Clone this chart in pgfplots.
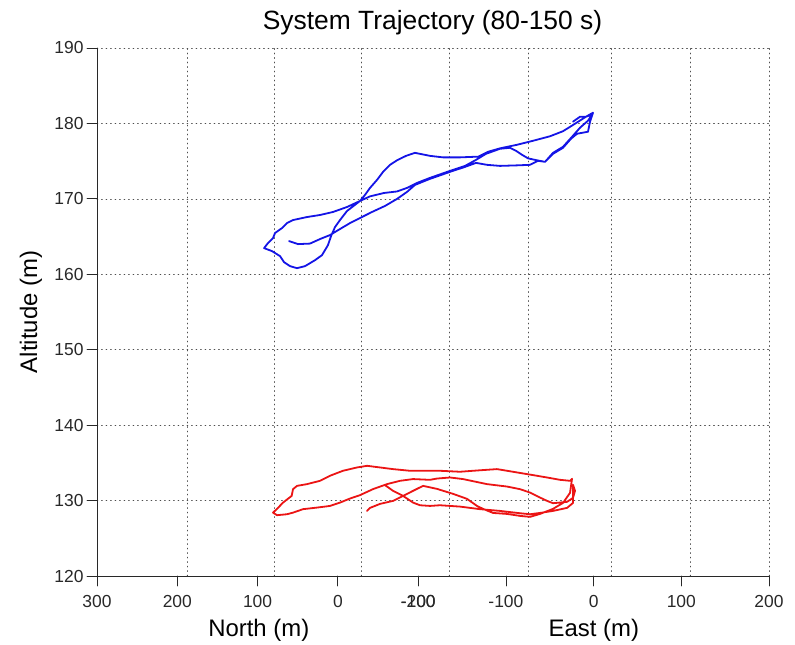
\documentclass[border=0pt]{standalone}
\usepackage{pgfplots}
\pgfplotsset{compat=1.18}
\usepackage{fontspec}
\setmainfont{Liberation Sans}
\definecolor{mblue}{RGB}{20,20,230}
\definecolor{mred}{RGB}{235,20,20}
\definecolor{axgray}{RGB}{40,40,40}
\begin{document}
\begin{tikzpicture}
\path[use as bounding box] (-97bp,-69bp) rectangle (698bp,576bp);
\begin{axis}[
  at={(0,0)}, anchor=south west,
  scale only axis, width=672bp, height=528bp,
  xmin=-566.3, xmax=200, ymin=120, ymax=190,
  axis x line*=bottom, axis y line*=left,
  axis line style={-, line width=0.8bp, axgray},
  tick align=outside, major tick length=10bp,
  tick style={line width=0.8bp, axgray},
  xtick={-566.3,-474.7,-383.2,-291.6,-200,-200,-100,0,100,200},
  xticklabels={300,200,100,0,-100,-200,-100,0,100,200},
  ytick={120,130,...,190},
  ymajorgrids,
  major grid style={line width=0.7bp, black!70, dash pattern=on 0.9bp off 3.6bp},
  extra x ticks={-463.6,-364.4,-265.2,-164.8,-74.8,19.8,109.9,200},
  extra x tick labels={},
  extra x tick style={grid=major, major tick length=0bp},
  tick label style={font=\fontsize{17.5}{20}\selectfont, text=axgray},
  xticklabel style={yshift=-6bp},
  /pgf/number format/assume math mode=true,
  line join=round, line cap=round,
]
\addplot[mblue, line width=1.8bp] coordinates {
(-347.3,164.40) (-337.1,164.00) (-323.4,164.07) (-312.0,164.67) (-300.6,165.20) (-289.2,166.00) (-277.8,166.79) (-266.4,167.46) (-252.7,168.26) (-237.9,169.06) (-224.2,169.99) (-212.8,170.92) (-203.7,171.85) (-186.6,172.65) (-163.7,173.58) (-146.6,174.24) (-134.1,174.77) (-121.6,174.51) (-106.7,174.37) (-87.3,174.44) (-72.5,174.51) (-63.4,175.04) (-55.4,174.91) (-46.3,175.97) (-34.9,176.77) (-25.8,177.97) (-18.9,178.63) (-6.4,178.90) (-4.1,180.23) (-0.7,181.42)
(-8.7,180.89) (-21.2,179.96) (-34.9,178.97) (-49.7,178.30) (-69.1,177.70) (-87.3,177.17) (-106.7,176.70) (-120.4,176.24) (-131.8,175.57) (-137.5,175.57) (-152.3,175.50) (-171.7,175.50) (-186.6,175.70) (-203.7,176.10) (-213.9,175.70) (-224.2,175.11) (-232.2,174.51) (-240.1,173.58) (-247.0,172.51) (-255.0,171.45) (-260.7,170.52) (-266.4,169.72) (-281.2,168.39) (-289.2,167.19) (-294.9,166.26) (-299.4,165.07) (-302.9,163.87) (-309.7,162.54) (-317.7,161.87) (-329.1,161.08) (-338.2,160.81) (-346.2,161.08) (-353.0,161.61) (-357.6,162.41) (-366.7,163.07) (-375.8,163.47)
(-371.3,164.14) (-365.6,164.80) (-363.3,165.47) (-355.3,166.13) (-349.6,166.79) (-342.8,167.19) (-326.8,167.59) (-312.0,167.86) (-297.2,168.26) (-281.2,168.92) (-266.4,169.72) (-255.0,170.33) (-239.0,170.78) (-224.2,170.98) (-212.8,171.45) (-201.4,172.11) (-186.6,172.78) (-163.7,173.71) (-146.6,174.37) (-134.1,175.17) (-122.7,175.97) (-106.7,176.64) (-95.3,176.77) (-88.5,176.37) (-81.6,175.84) (-74.8,175.37) (-64.5,175.11) (-55.4,174.91) (-46.3,176.10) (-34.9,176.90) (-24.6,178.23) (-15.5,179.43) (-6.4,180.36) (-1.8,181.16) (-8.7,180.89) (-15.5,180.89) (-23.5,180.23)
};
\addplot[mred, line width=1.8bp] coordinates {
(-258.4,128.63) (-255.0,129.03) (-243.6,129.56) (-228.7,129.96) (-217.3,130.62) (-205.9,131.29) (-194.5,131.95) (-178.6,131.55) (-160.3,130.89) (-144.4,130.23) (-133.0,129.29) (-126.1,128.90) (-114.7,128.36) (-98.8,128.23) (-83.9,127.97) (-72.5,127.84) (-61.1,128.23) (-46.3,128.90) (-34.9,129.69) (-26.9,131.02) (-24.6,132.89)
(-26.9,132.62) (-38.3,132.75) (-53.1,133.06) (-75.9,133.51) (-98.8,133.95) (-110.2,134.17) (-121.6,134.08) (-137.5,133.95) (-152.3,133.82) (-175.2,133.95) (-198.0,133.95) (-209.4,133.95) (-228.7,134.17) (-243.6,134.39) (-258.4,134.61) (-269.8,134.39) (-285.8,133.95) (-300.6,133.29) (-312.0,132.62) (-326.8,132.18) (-338.2,131.95) (-342.8,131.51) (-344.3,130.62) (-354.2,129.73) (-361.0,128.90) (-365.6,128.40)
(-361.0,128.06) (-349.6,128.19) (-342.8,128.40) (-331.4,128.86) (-315.4,129.07) (-300.6,129.29) (-289.2,129.73) (-277.8,130.27) (-266.4,130.72) (-251.5,131.52) (-235.6,132.18) (-220.8,132.62) (-205.9,132.85) (-186.6,132.75) (-178.6,132.92) (-163.7,133.06) (-148.9,132.85) (-121.6,132.18) (-98.8,131.86) (-83.9,131.51) (-72.5,131.06) (-61.1,130.40) (-53.1,129.96) (-46.3,129.65) (-30.3,129.83) (-23.5,130.36) (-21.2,131.29) (-23.5,132.09)
(-23.5,129.69) (-30.3,129.03) (-46.3,128.63) (-61.1,128.36) (-72.5,128.19) (-83.9,128.32) (-106.7,128.63) (-129.5,128.86) (-152.3,129.20) (-175.2,129.38) (-186.6,129.29) (-198.0,129.38) (-205.9,129.73) (-217.3,130.62) (-228.7,131.29) (-237.9,132.05)
};
\end{axis}
\node[font=\fontsize{26.5}{30}\selectfont, text=black] at (335.5bp,553bp) {System Trajectory (80-150 s)};
\node[font=\fontsize{24}{28}\selectfont] at (161.8bp,-54bp) {North (m)};
\node[font=\fontsize{24}{28}\selectfont] at (496.9bp,-54bp) {East (m)};
\node[font=\fontsize{24}{28}\selectfont, rotate=90] at (-66bp,264bp) {Altitude (m)};
\end{tikzpicture}
\end{document}
